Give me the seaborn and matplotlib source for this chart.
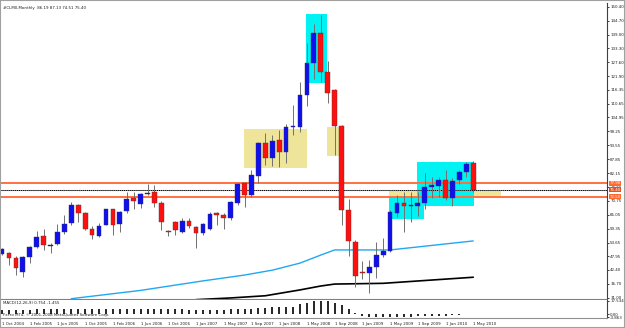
#!/usr/bin/python3

# libraries
import matplotlib
matplotlib.use('Agg')

import matplotlib.pyplot as plt
import numpy as np
import pandas as pd
import seaborn as sns
from matplotlib.patches import Rectangle

# ------------------------------------------------------------
#     Data  (#CLM0 monthly)
# ------------------------------------------------------------

opens = [48.9, 49.2, 47.4, 41.7, 47.6, 51.7, 56.3, 52.2, 53.0, 58.0,
         61.5, 69.0, 65.6, 59.2, 56.4, 61.0, 67.2, 61.2, 66.6, 71.8,
         69.4, 73.6, 74.2, 69.7, 58.2, 62.2, 57.8, 62.6, 60.1, 57.4,
         59.1, 65.6, 64.9, 63.6, 70.0, 78.0, 73.1, 80.9, 94.6, 88.2,
         95.7, 90.9, 100.9, 101.2, 114.2, 127.2, 139.6, 123.5, 116.2, 101.4,
         66.9, 54.0, 41.5, 41.3, 43.7, 48.5, 50.3, 65.9, 69.7, 68.6,
         68.6, 69.7, 76.6, 77.0, 79.3, 72.0, 79.3, 82.7, 86.19]
highs = [51.5, 49.8, 48.0, 48.2, 52.3, 58.3, 59.0, 53.5, 61.2, 65.0,
         70.3, 69.5, 66.3, 60.5, 61.5, 67.5, 67.6, 66.5, 74.5, 74.5,
         73.9, 77.5, 77.3, 70.5, 58.6, 62.6, 63.6, 63.6, 60.6, 61.8,
         66.3, 66.3, 65.9, 70.7, 78.2, 78.4, 83.4, 95.0, 98.5, 97.8,
         99.8, 102.3, 109.9, 119.4, 135.4, 143.3, 147.0, 128.2, 116.6, 102.0,
         71.4, 54.7, 46.2, 46.5, 54.0, 55.4, 67.0, 73.1, 74.5, 74.5,
         74.5, 82.0, 80.7, 80.7, 83.4, 80.0, 83.4, 86.8, 87.13]
lows = [48.5, 44.3, 40.3, 39.6, 45.1, 51.2, 50.7, 49.3, 52.5, 57.0,
        61.0, 62.0, 58.8, 55.0, 56.0, 60.7, 56.7, 58.0, 65.6, 67.3,
        67.7, 73.0, 68.3, 58.8, 56.3, 56.7, 57.4, 59.5, 51.3, 56.8,
        58.6, 60.8, 59.1, 63.0, 69.0, 68.1, 72.4, 78.1, 85.5, 85.2,
        84.8, 86.2, 97.8, 99.1, 109.7, 120.7, 119.7, 110.8, 89.6, 60.7,
        48.1, 35.5, 38.6, 33.1, 39.0, 47.8, 49.9, 64.0, 58.1, 62.0,
        64.5, 67.4, 71.8, 72.4, 71.1, 68.6, 77.5, 80.7, 74.51]
closes = [50.9, 47.4, 43.0, 47.8, 51.9, 55.8, 52.6, 52.5, 58.0, 61.2,
          69.0, 65.6, 59.2, 56.8, 60.3, 67.2, 60.7, 66.1, 71.4, 70.7,
          73.4, 73.9, 69.7, 62.2, 58.0, 58.8, 62.6, 60.4, 57.4, 61.2,
          65.2, 64.9, 63.6, 70.1, 77.7, 73.1, 81.3, 94.6, 88.2, 95.3,
          90.9, 100.9, 101.2, 114.2, 127.2, 139.8, 123.8, 114.9, 101.4, 66.9,
          54.4, 39.9, 41.1, 43.7, 48.5, 50.3, 66.0, 70.0, 68.8, 68.9,
          69.7, 76.3, 76.9, 79.3, 72.0, 79.0, 82.7, 85.9, 75.40]

# MACD(12,26,9) main histogram
macd = [6.0, 6.2, 6.0, 5.8, 6.0, 6.3, 6.5, 6.4, 6.5, 6.8,
        7.0, 7.2, 7.0, 6.8, 6.7, 6.8, 6.9, 6.8, 7.0, 7.2,
        7.3, 7.4, 7.2, 6.9, 6.6, 6.4, 6.3, 6.2, 6.0, 6.0,
        6.1, 6.2, 6.2, 6.4, 6.8, 7.0, 7.5, 8.0, 8.5, 8.8,
        9.2, 9.6, 10.0, 13.0, 15.0, 16.8, 17.534, 16.5, 14.8, 11.5,
        6.5, 1.5, -1.5, -2.8, -3.4, -3.863, -3.8, -3.3, -2.9, -2.8,
        -2.5, -2.4, -2.1, -1.8, -1.4, -1.0, -0.6, 0.4, 0.754]

# moving averages (bar index, value)
ma_blue_bar = [10, 20, 29, 35, 39, 43, 46, 48, 56, 68]
ma_blue_val = [30.6, 34.0, 37.9, 40.3, 42.3, 45.2, 48.5, 50.6, 50.6, 54.3]
ma_black_bar = [28, 33, 38, 43, 46, 48, 55, 68]
ma_black_val = [30.2, 30.9, 31.8, 34.2, 35.8, 36.6, 36.9, 39.4]

# drawn objects: (first bar, last bar, low, high)
khaki_zones = [(34.9, 44.0, 84.4, 100.1), (46.85, 48.8, 89.3, 101.2),
               (55.9, 72.0, 72.4, 74.8)]
cyan_zones = [(43.9, 46.9, 119.2, 147.3), (55.9, 60.9, 63.3, 72.4),
              (59.9, 68.1, 68.6, 86.8)]
level_lines = [77.9, 72.5]

price_ticks = [150.40, 144.70, 139.00, 133.30, 127.60, 121.90, 116.35, 110.65,
               104.95, 99.25, 93.55, 87.85, 82.15, 76.45, 70.75, 65.05, 59.35,
               53.65, 47.95, 42.40, 36.70, 31.00]
macd_ticks = [17.534, 0.00, -3.863]
date_labels = ["1 Oct 2004", "1 Feb 2005", "1 Jun 2005", "1 Oct 2005", "1 Feb 2006",
               "1 Jun 2006", "1 Oct 2006", "1 Jan 2007", "1 May 2007", "1 Sep 2007",
               "1 Jan 2008", "1 May 2008", "1 Sep 2008", "1 Jan 2009", "1 May 2009",
               "1 Sep 2009", "1 Jan 2010", "1 May 2010"]

# ------------------------------------------------------------
#     Settings
# ------------------------------------------------------------

sns.set_style("white")
plt.rcParams['font.family'] = ['DejaVu Sans']
fs = 2.9          # MT4 text is tiny
W, H = 625.0, 328.0

df = pd.DataFrame({"o": opens, "h": highs, "l": lows, "c": closes, "macd": macd})
df["bar"] = np.arange(len(df))
up = df["c"] >= df["o"]

fig = plt.figure(figsize=(W / 100, H / 100), dpi=100)
fig.patch.set_facecolor("white")
fig.add_artist(Rectangle((0, 0), 1, 1, transform=fig.transFigure, fill=False,
                         edgecolor="#a0a0a0", lw=1.5))

# pixel helpers for axes placement
def px_axes(x0, y0, x1, y1):
    return fig.add_axes([x0 / W, 1 - y1 / H, (x1 - x0) / W, (y1 - y0) / H])

ax = px_axes(1, 3, 607, 299)
axm = px_axes(1, 300, 607, 318)

xlim = (-0.144, 87.30)

# ------------------------------------------------------------
#     Price pane
# ------------------------------------------------------------

for b0, b1, lo, hi in khaki_zones:
    ax.add_patch(Rectangle((b0, lo), b1 - b0, hi - lo, facecolor="#efe59a",
                           edgecolor="none", zorder=1))
for b0, b1, lo, hi in cyan_zones:
    ax.add_patch(Rectangle((b0, lo), b1 - b0, hi - lo, facecolor="#00f2f2",
                           edgecolor="none", zorder=1.5))

for lvl in level_lines:
    ax.axhline(lvl, color="#ff7040", lw=1.4, zorder=2)
ax.axhline(closes[-1], color="#9a9a9a", lw=0.8, zorder=2)
ax.axhline(closes[-1], color="black", lw=0.7, ls=(0, (1, 1)), zorder=2.1)

sns.lineplot(x=ma_blue_bar, y=ma_blue_val, ax=ax, color="#20a8f0", lw=1.0, zorder=3)
sns.lineplot(x=ma_black_bar, y=ma_black_val, ax=ax, color="black", lw=1.2, zorder=3)

# candles
ax.vlines(df["bar"], df["l"], df["h"], color="#707070", lw=0.7, zorder=4)
body_lo = np.minimum(df["o"], df["c"])
body_h = np.maximum((df["c"] - df["o"]).abs(), 0.5)
ax.bar(df["bar"][up], body_h[up], bottom=body_lo[up], width=0.68,
       color="#1010ee", edgecolor="#303060", lw=0.3, zorder=5)
ax.bar(df["bar"][~up], body_h[~up], bottom=body_lo[~up], width=0.68,
       color="#ff1010", edgecolor="#603030", lw=0.3, zorder=5)

ax.set_xlim(*xlim)
ax.set_ylim(30.47, 151.93)
ax.set_xticks([])
ax.set_xlabel("")
ax.set_ylabel("")
ax.yaxis.tick_right()
ax.set_yticks(price_ticks)
ax.set_yticklabels(["%.2f" % v for v in price_ticks])
ax.tick_params(axis="y", labelsize=fs, length=1.5, pad=0.8, width=0.6, colors="#202020")
for side in ["left", "top"]:
    ax.spines[side].set_visible(False)
ax.spines["right"].set_color("#404040")
ax.spines["right"].set_linewidth(0.8)
ax.spines["bottom"].set_color("#808080")
ax.spines["bottom"].set_linestyle((0, (1, 1)))
ax.spines["bottom"].set_linewidth(0.8)

# price tags on the right axis
for lvl, col in [(level_lines[0], "#ff6a30"), (closes[-1], "#e85020"), (level_lines[1], "#ff6a30")]:
    ax.annotate("%.2f" % lvl, xy=(1.0, lvl), xycoords=("axes fraction", "data"),
                xytext=(2.0, 0), textcoords="offset points", fontsize=fs,
                color="white", va="center", ha="left", annotation_clip=False,
                bbox=dict(boxstyle="square,pad=0.08", fc=col, ec="none"), zorder=10)

ax.text(0.004, 0.991, "#CLM0,Monthly  86.19 87.13 74.51 75.40", transform=ax.transAxes,
        fontsize=fs, va="top", ha="left", color="#202020")

# ------------------------------------------------------------
#     MACD pane
# ------------------------------------------------------------

axm.vlines(df["bar"], 0, df["macd"], color="black", lw=1.2)
axm.set_xlim(*xlim)
axm.set_ylim(-4.5, 18.3)
axm.yaxis.tick_right()
axm.set_yticks(macd_ticks)
axm.set_yticklabels(["17.534", "0.00", "-3.863"])
axm.tick_params(axis="y", labelsize=fs, length=1.5, pad=0.8, width=0.6, colors="#202020")
axm.set_xticks(np.arange(0, 4 * len(date_labels), 4))
axm.set_xticklabels(date_labels, ha="left")
axm.tick_params(axis="x", labelsize=fs, length=2.0, pad=1.2, width=0.6,
                direction="out", colors="#202020")
for side in ["left", "top"]:
    axm.spines[side].set_visible(False)
axm.spines["right"].set_color("#404040")
axm.spines["right"].set_linewidth(0.8)
axm.spines["bottom"].set_color("#909090")
axm.spines["bottom"].set_linewidth(0.8)

axm.text(0.004, 0.95, "MACD(12,26,9) 0.754 -1.455", transform=axm.transAxes,
         fontsize=fs, va="top", ha="left", color="#202020")
axm.text(0.004, 0.06, "FxPro MT4, \u00a9 2001-2008 MetaQuotes Software Corp.",
         transform=axm.transAxes, fontsize=fs, va="bottom", ha="left", color="#202020")

fig.savefig("out.png", dpi=100)
